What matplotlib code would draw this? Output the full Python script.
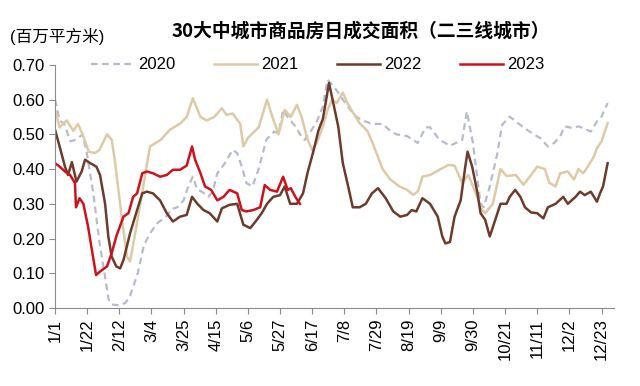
import matplotlib
matplotlib.use('Agg')
from matplotlib import pyplot as plt

plt.rcParams['font.family'] = ['Liberation Sans', 'Noto Sans CJK SC']

# 日序号 (day of year, 0 = 1/1) 与成交面积 (百万平方米)
days_2020 = [0, 3, 6, 10, 14, 18, 21, 25, 29, 33, 35, 37, 42, 46, 49, 54, 58, 62, 67, 70,
             73, 76, 80, 84, 87, 90, 93, 96, 100, 103, 106, 111, 116, 119, 122, 125, 129, 133, 138, 143,
             146, 149, 152, 157, 160, 163, 167, 171, 175, 178, 182, 185, 188, 193, 197, 201, 206, 210, 214, 219,
             223, 230, 237, 242, 245, 251, 258, 266, 269, 273, 278, 280, 284, 289, 292, 297, 304, 310, 317, 322,
             326, 330, 333, 338, 342, 350, 354, 357, 361]
vals_2020 = [0.60, 0.54, 0.53, 0.48, 0.485, 0.50, 0.44, 0.33, 0.19, 0.08, 0.025, 0.01, 0.008, 0.015, 0.035, 0.10, 0.18, 0.215, 0.245, 0.255,
             0.265, 0.285, 0.29, 0.31, 0.35, 0.378, 0.34, 0.335, 0.32, 0.335, 0.388, 0.417, 0.455, 0.446, 0.407, 0.36, 0.35, 0.40, 0.484, 0.508,
             0.503, 0.57, 0.55, 0.523, 0.50, 0.484, 0.508, 0.537, 0.58, 0.657, 0.638, 0.62, 0.60, 0.57, 0.55, 0.54, 0.532, 0.53, 0.53, 0.51,
             0.50, 0.495, 0.475, 0.52, 0.52, 0.485, 0.467, 0.484, 0.566, 0.475, 0.30, 0.29, 0.35, 0.446, 0.527, 0.551, 0.527, 0.508, 0.489, 0.465,
             0.475, 0.494, 0.523, 0.518, 0.523, 0.508, 0.537, 0.551, 0.59]

days_2021 = [0, 3, 7.6, 12, 15, 18, 22, 26, 29, 34, 37, 39, 43.5, 47, 49, 52, 58, 62, 69, 75,
             82, 86, 90, 95, 99, 104, 109, 112, 116, 121, 123, 126, 133, 138.5, 142, 146, 150, 154, 158, 161,
             165, 168, 171, 175, 178, 181, 184, 188, 191, 195, 199, 204, 207, 210, 214, 219, 225, 230, 234, 237,
             240, 245, 252, 257, 261, 266, 270, 274, 279, 281, 286, 291, 295, 301, 306, 311, 315, 320, 323, 327,
             330, 335, 339, 342, 345, 348, 352, 354, 357, 361]
vals_2021 = [0.57, 0.52, 0.54, 0.51, 0.53, 0.50, 0.45, 0.446, 0.455, 0.50, 0.484, 0.427, 0.263, 0.148, 0.134, 0.206, 0.36, 0.465, 0.484, 0.513,
             0.532, 0.55, 0.604, 0.55, 0.54, 0.55, 0.575, 0.556, 0.56, 0.53, 0.465, 0.49, 0.52, 0.60, 0.55, 0.50, 0.57, 0.55, 0.585, 0.551,
             0.484, 0.455, 0.475, 0.523, 0.57, 0.60, 0.59, 0.62, 0.59, 0.56, 0.532, 0.51, 0.48, 0.446, 0.40, 0.37, 0.35, 0.34, 0.326, 0.335,
             0.378, 0.383, 0.40, 0.412, 0.41, 0.36, 0.383, 0.34, 0.282, 0.273, 0.30, 0.40, 0.38, 0.383, 0.355, 0.383, 0.407, 0.40, 0.36, 0.35,
             0.388, 0.393, 0.37, 0.40, 0.388, 0.407, 0.436, 0.46, 0.48, 0.532]

days_2022 = [0, 3, 6.5, 8.5, 11, 14, 17.4, 19.6, 23, 27, 29.4, 32.7, 34.8, 37, 40, 42.5, 44.7, 49, 53.6, 57,
             60, 64, 68.6, 73, 77, 81.7, 86, 89.5, 93, 97, 101, 106, 109, 114, 119, 123, 127.5, 131, 135, 138.5,
             142.5, 147, 150, 153.6, 158, 162, 165, 169, 172, 175, 179, 182, 185, 188, 191.5, 194.5, 199, 203, 207, 211,
             216, 221, 225.5, 230, 233, 236, 240, 245, 250, 253, 255, 258, 261, 265, 268, 269.5, 272.5, 276, 278, 281,
             284, 287.6, 291, 295, 297, 300.6, 304, 307, 311, 315, 319, 322, 327, 332, 335, 340, 343, 346, 350, 354,
             356, 358, 361]
vals_2022 = [0.513, 0.465, 0.407, 0.383, 0.42, 0.364, 0.393, 0.427, 0.417, 0.407, 0.383, 0.30, 0.206, 0.148, 0.12, 0.114, 0.138, 0.215, 0.282, 0.33,
             0.335, 0.33, 0.31, 0.273, 0.249, 0.263, 0.268, 0.32, 0.30, 0.282, 0.273, 0.249, 0.287, 0.297, 0.30, 0.24, 0.23, 0.249, 0.273, 0.30,
             0.32, 0.325, 0.35, 0.30, 0.30, 0.33, 0.39, 0.455, 0.51, 0.545, 0.648, 0.585, 0.523, 0.417, 0.35, 0.29, 0.29, 0.30, 0.33, 0.345,
             0.316, 0.278, 0.263, 0.268, 0.282, 0.278, 0.316, 0.30, 0.263, 0.206, 0.186, 0.19, 0.263, 0.31, 0.407, 0.45, 0.407, 0.33, 0.273, 0.254,
             0.206, 0.254, 0.30, 0.30, 0.32, 0.34, 0.32, 0.29, 0.275, 0.273, 0.258, 0.29, 0.30, 0.32, 0.30, 0.32, 0.335, 0.325, 0.335, 0.306,
             0.33, 0.35, 0.417]

days_2023 = [0, 3, 6.5, 9.8, 13, 13.7, 16, 18.5, 21.6, 23.7, 26.8, 29.4, 34, 37, 40.3, 44.7, 48, 51, 53.6, 57,
             60, 64, 68.6, 73, 77, 81.7, 86, 89.5, 91.5, 95, 98, 102, 106, 110, 114, 119, 122, 125, 129.5, 134,
             137, 140.5, 145, 149, 152, 154, 157, 160]
vals_2023 = [0.417, 0.407, 0.393, 0.383, 0.36, 0.29, 0.316, 0.30, 0.234, 0.177, 0.095, 0.105, 0.12, 0.158, 0.21, 0.263, 0.273, 0.32, 0.33, 0.388,
             0.393, 0.388, 0.378, 0.383, 0.398, 0.398, 0.41, 0.465, 0.427, 0.388, 0.35, 0.34, 0.31, 0.32, 0.34, 0.33, 0.282, 0.278, 0.282, 0.29,
             0.354, 0.34, 0.335, 0.378, 0.34, 0.345, 0.32, 0.30]

tick_days = [0, 21, 42, 63, 84, 105, 126, 147, 168, 189, 210, 231, 252, 273, 294, 315, 336, 357]
tick_labels = ['1/1', '1/22', '2/12', '3/4', '3/25', '4/15', '5/6', '5/27', '6/17', '7/8',
               '7/29', '8/19', '9/9', '9/30', '10/21', '11/11', '12/2', '12/23']
y_ticks = [0.0, 0.1, 0.2, 0.3, 0.4, 0.5, 0.6, 0.7]

fig = plt.figure(figsize=(6.4, 3.86), dpi=100)
ax = fig.add_axes([0.086, 0.202, 0.873, 0.63])

ax.plot(days_2020, vals_2020, color='#b7bccd', lw=1.6, ls=(0, (3, 2)), label='2020')
ax.plot(days_2021, vals_2021, color='#dfcaa6', lw=1.8, label='2021')
ax.plot(days_2022, vals_2022, color='#6e3b2b', lw=1.8, label='2022')
ax.plot(days_2023, vals_2023, color='#d0111b', lw=1.8, label='2023')

ax.set_xlim(0, 365)
ax.set_ylim(0, 0.7)
ax.set_yticks(y_ticks)
ax.set_yticklabels([f'{v:.2f}' for v in y_ticks], fontsize=12)
ax.set_xticks(tick_days)
ax.set_xticklabels(tick_labels, rotation=90, fontsize=12)

for s in ['top', 'right']:
    ax.spines[s].set_visible(False)
for s in ['left', 'bottom']:
    ax.spines[s].set_color('#8c8c8c')
ax.tick_params(direction='out', length=4, color='#8c8c8c', width=0.8)

ax.legend(loc='center', bbox_to_anchor=(0.47, 1.0), ncol=4, frameon=False, fontsize=12,
          handlelength=2.6, handletextpad=0.25, columnspacing=2.3)

fig.text(0.563, 0.92, '30大中城市商品房日成交面积（二三线城市）', ha='center', va='center',
         fontsize=13.5, fontweight='bold', family=['Noto Sans CJK SC'])
fig.text(0.015, 0.905, '(百万平方米)', ha='left', va='center', fontsize=12,
         family=['Liberation Sans', 'Noto Sans CJK SC'])

fig.savefig('out.png', dpi=100)
